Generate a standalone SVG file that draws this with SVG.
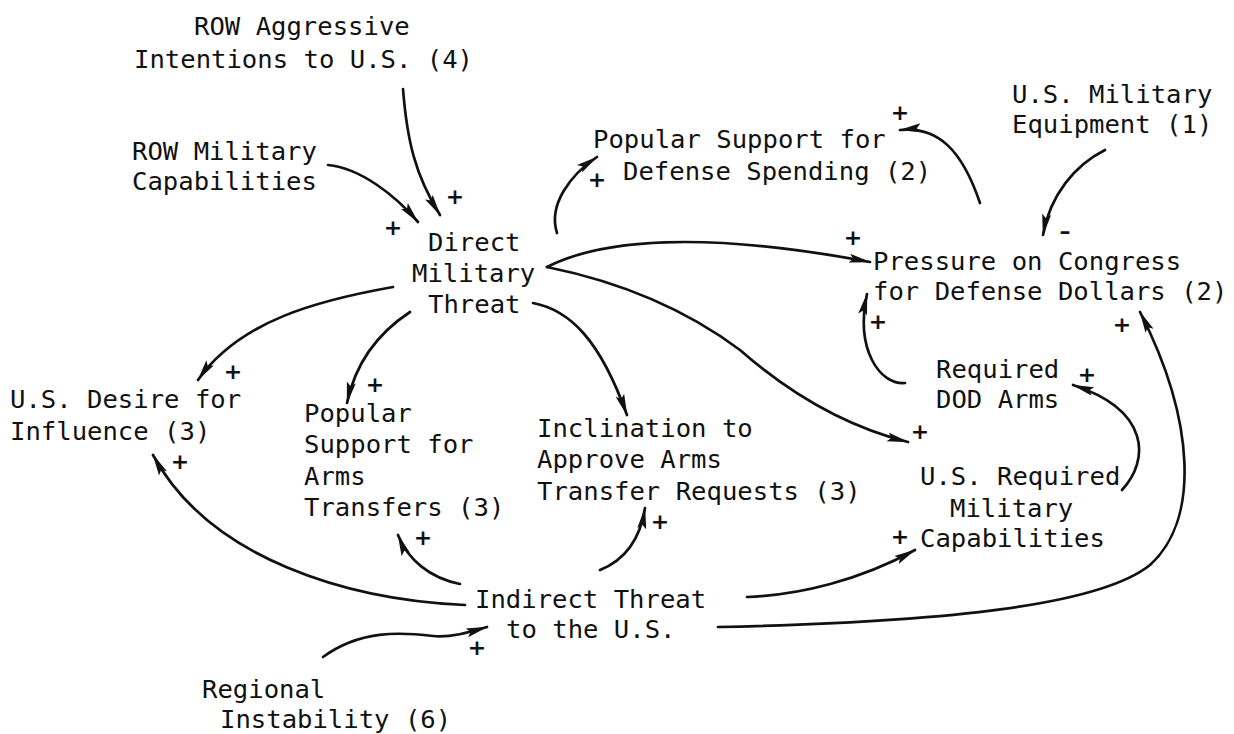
<svg xmlns="http://www.w3.org/2000/svg" width="1234" height="734" viewBox="0 0 1234 734">
<defs>
<style>
.t{font-family:"DejaVu Sans Mono","Liberation Mono",monospace;font-size:25.6px;fill:#111}
.s{font-family:"DejaVu Sans","Liberation Sans",sans-serif;font-size:22px;font-weight:bold;fill:#111;text-anchor:middle}
.c{fill:none;stroke:#111;stroke-width:2.7;stroke-linecap:round;marker-end:url(#ah)}
</style>
<marker id="ah" viewBox="0 0 22 10" refX="21" refY="5" markerWidth="22" markerHeight="10" markerUnits="userSpaceOnUse" orient="auto">
<path d="M0,0.5 L22,5 L0,9.5 L4,5 Z" fill="#111"/>
</marker>
</defs>
<rect width="1234" height="734" fill="#fff"/>

<g id="connectors">
<path class="c" d="M403,89 C407,140 415,175 440,215"/>
<path class="c" d="M328,165 C360,168 395,195 418,222"/>
<path class="c" d="M557,233 C548,205 570,175 597,157"/>
<path class="c" d="M980,203 C962,150 938,126 900,130"/>
<path class="c" d="M1105,150 C1075,165 1050,195 1043,235"/>
<path class="c" d="M547,267 C600,240 700,230 870,262"/>
<path class="c" d="M547,267 Q660,290 740,350 Q820,420 908,442"/>
<path class="c" d="M533,303 C570,310 600,340 627,415"/>
<path class="c" d="M393,287 C320,300 240,320 198,380"/>
<path class="c" d="M410,312 C375,335 355,365 347,403"/>
<path class="c" d="M905,383 C880,385 855,350 867,294"/>
<path class="c" d="M1122,490 C1150,460 1150,410 1073,385"/>
<path class="c" d="M718,627 C950,622 1100,605 1150,565 C1200,520 1195,420 1140,312"/>
<path class="c" d="M747,597 C800,595 860,580 915,550"/>
<path class="c" d="M600,570 C625,560 640,540 645,508"/>
<path class="c" d="M460,584 C430,578 408,560 398,535"/>
<path class="c" d="M465,605 C350,600 210,560 153,455"/>
<path class="c" d="M323,657 C360,630 400,632 433,636 C450,638 470,632 487,627"/>
</g>

<g id="signs">
<text class="s" x="455" y="204">+</text>
<text class="s" x="393" y="235">+</text>
<text class="s" x="597" y="187">+</text>
<text class="s" x="900" y="120">+</text>
<text class="s" x="853" y="245">+</text>
<text class="s" x="1065" y="239">–</text>
<text class="s" x="233" y="379">+</text>
<text class="s" x="375" y="392">+</text>
<text class="s" x="180" y="469">+</text>
<text class="s" x="423" y="545">+</text>
<text class="s" x="660" y="529">+</text>
<text class="s" x="920" y="439">+</text>
<text class="s" x="878" y="329">+</text>
<text class="s" x="1122" y="332">+</text>
<text class="s" x="1087" y="382">+</text>
<text class="s" x="900" y="544">+</text>
<text class="s" x="477" y="655">+</text>
</g>

<g id="row-aggressive">
<text class="t" x="194" y="35">ROW Aggressive</text>
<text class="t" x="134" y="68">Intentions to U.S. (4)</text>
</g>
<g id="row-military">
<text class="t" x="132" y="160">ROW Military</text>
<text class="t" x="132" y="190">Capabilities</text>
</g>
<g id="direct-threat">
<text class="t" x="428" y="251">Direct</text>
<text class="t" x="412" y="282">Military</text>
<text class="t" x="428" y="313">Threat</text>
</g>
<g id="popular-defense">
<text class="t" x="593" y="148">Popular Support for</text>
<text class="t" x="623" y="180">Defense Spending (2)</text>
</g>
<g id="us-equipment">
<text class="t" x="1012" y="103">U.S. Military</text>
<text class="t" x="1012" y="133">Equipment (1)</text>
</g>
<g id="pressure-congress">
<text class="t" x="873" y="270">Pressure on Congress</text>
<text class="t" x="873" y="300">for Defense Dollars (2)</text>
</g>
<g id="us-desire">
<text class="t" x="10" y="408">U.S. Desire for</text>
<text class="t" x="10" y="440">Influence (3)</text>
</g>
<g id="popular-arms">
<text class="t" x="304" y="422">Popular</text>
<text class="t" x="304" y="453">Support for</text>
<text class="t" x="304" y="485">Arms</text>
<text class="t" x="304" y="516">Transfers (3)</text>
</g>
<g id="inclination">
<text class="t" x="537" y="437">Inclination to</text>
<text class="t" x="537" y="468">Approve Arms</text>
<text class="t" x="537" y="500">Transfer Requests (3)</text>
</g>
<g id="required-dod">
<text class="t" x="936" y="378">Required</text>
<text class="t" x="936" y="408">DOD Arms</text>
</g>
<g id="us-required">
<text class="t" x="920" y="485">U.S. Required</text>
<text class="t" x="950" y="517">Military</text>
<text class="t" x="920" y="547">Capabilities</text>
</g>
<g id="indirect-threat">
<text class="t" x="475" y="608">Indirect Threat</text>
<text class="t" x="506" y="638">to the U.S.</text>
</g>
<g id="regional">
<text class="t" x="202" y="698">Regional</text>
<text class="t" x="220" y="728">Instability (6)</text>
</g>
</svg>
